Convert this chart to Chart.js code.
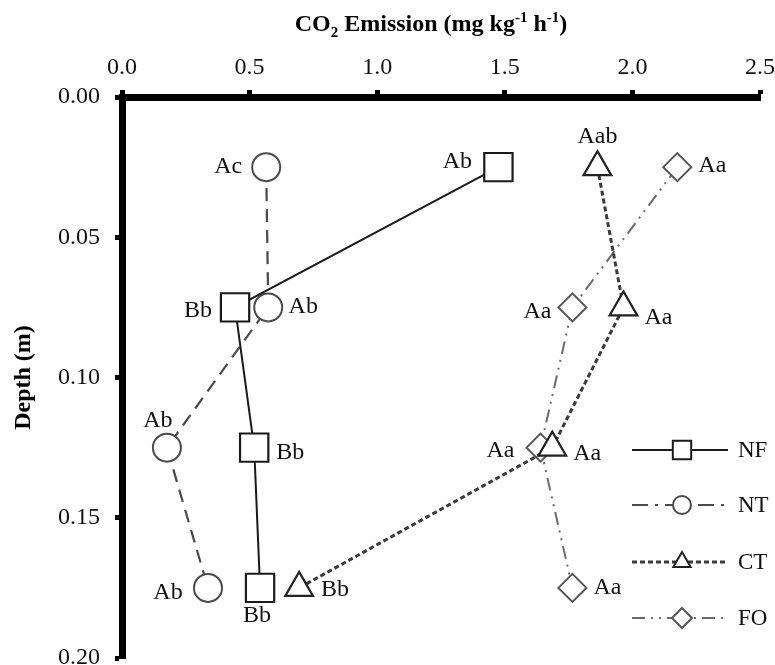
<!DOCTYPE html>
<html>
<head>
<meta charset="utf-8">
<script src="https://cdn.jsdelivr.net/npm/chart.js@4.4.0/dist/chart.umd.min.js"></script>
<style>
  html, body { margin: 0; padding: 0; background: #fff; }
  #wrap { width: 775px; height: 665px; }
</style>
</head>
<body>
<div id="wrap"><canvas id="chart"></canvas></div>
<script>
// depth of each sampling layer (m)
const depths = [0.025, 0.075, 0.125, 0.175];
const seriesNames = ['NF', 'NT', 'CT', 'FO'];
// CO2 emission (mg kg-1 h-1) per layer
const nfValues = [1.475, 0.443, 0.518, 0.541];
const ntValues = [0.565, 0.573, 0.176, 0.337];
const ctValues = [1.863, 1.965, 1.686, 0.694];
const foValues = [2.176, 1.765, 1.640, 1.765];
// significance letters
const nfLetters = ['Ab', 'Bb', 'Bb', 'Bb'];
const ntLetters = ['Ac', 'Ab', 'Ab', 'Ab'];
const ctLetters = ['Aab', 'Aa', 'Aa', 'Bb'];
const foLetters = ['Aa', 'Aa', 'Aa', 'Aa'];
const xTickLabels = ['0.0', '0.5', '1.0', '1.5', '2.0', '2.5'];
const yTickLabels = ['0.00', '0.05', '0.10', '0.15', '0.20'];

const serif = "'Liberation Serif', 'Times New Roman', serif";

// where each letter sits relative to its marker (px)
const letterOffsets = [
  [[-41, -5], [-37, 3], [36, 5], [-3, 28]],
  [[-38, 0], [35, -1], [-9, -27], [-40, 5]],
  [[0, -30], [35, 10], [35, 6], [36, 2]],
  [[35, -1], [-35, 4], [-40, 3], [35, 0]]
];

function pts(values) {
  return values.map((v, i) => ({ x: v, y: depths[i] }));
}

const letterPlugin = {
  id: 'letters',
  afterDatasetsDraw(chart) {
    const ctx = chart.ctx;
    const all = [nfLetters, ntLetters, ctLetters, foLetters];
    ctx.save();
    ctx.font = '24px ' + serif;
    ctx.fillStyle = '#111';
    ctx.textAlign = 'center';
    ctx.textBaseline = 'middle';
    chart.data.datasets.forEach((ds, di) => {
      chart.getDatasetMeta(di).data.forEach((el, i) => {
        const off = letterOffsets[di][i];
        ctx.fillText(all[di][i], el.x + off[0], el.y + off[1]);
      });
    });
    ctx.restore();
  }
};

// x axis title with sub/superscripts
const titlePlugin = {
  id: 'topTitle',
  afterDraw(chart) {
    const ctx = chart.ctx;
    const big = 'bold 24px ' + serif;
    const small = 'bold 15px ' + serif;
    const parts = [
      ['CO', big, 0], ['2', small, 6], [' Emission (mg kg', big, 0],
      ['-1', small, -9], [' h', big, 0], ['-1', small, -9], [')', big, 0]
    ];
    ctx.save();
    let w = 0;
    parts.forEach(p => { ctx.font = p[1]; w += ctx.measureText(p[0]).width; });
    const area = chart.chartArea;
    let x = (area.left + area.right) / 2 - w / 2 - 10;
    const y = 31;
    ctx.fillStyle = '#000';
    ctx.textBaseline = 'alphabetic';
    ctx.textAlign = 'left';
    parts.forEach(p => {
      ctx.font = p[1];
      ctx.fillText(p[0], x, y + p[2]);
      x += ctx.measureText(p[0]).width;
    });
    ctx.restore();
  }
};

const legendPlugin = {
  id: 'innerLegend',
  afterDraw(chart) {
    const ctx = chart.ctx;
    const rows = [450, 505, 562, 618];
    const x0 = 632, x1 = 728, xm = 682;
    ctx.save();
    chart.data.datasets.forEach((ds, i) => {
      const y = rows[i];
      ctx.strokeStyle = ds.borderColor;
      ctx.lineWidth = ds.borderWidth;
      ctx.setLineDash(ds.legendDash || ds.borderDash || []);
      ctx.beginPath();
      ctx.moveTo(x0, y);
      ctx.lineTo(x1, y);
      ctx.stroke();
      ctx.setLineDash([]);
      ctx.fillStyle = '#fff';
      ctx.strokeStyle = ds.pointBorderColor;
      ctx.lineWidth = 2;
      Chart.helpers.drawPoint(ctx, {
        pointStyle: ds.pointStyle, radius: ds.legendRadius, rotation: 0, borderWidth: 2
      }, xm, y);
      ctx.fillStyle = '#111';
      ctx.font = '23px ' + serif;
      ctx.textAlign = 'left';
      ctx.textBaseline = 'middle';
      ctx.fillText(ds.label, 738, y + 1);
    });
    ctx.restore();
  }
};

new Chart(document.getElementById('chart'), {
  type: 'scatter',
  data: {
    datasets: [
      {
        label: seriesNames[0], data: pts(nfValues), showLine: true,
        borderColor: '#1a1a1a', borderWidth: 2, borderDash: [],
        pointStyle: 'rect', pointRadius: 20, pointBorderWidth: 2.2,
        pointBorderColor: '#1a1a1a', pointBackgroundColor: '#fff', legendRadius: 13
      },
      {
        label: seriesNames[1], data: pts(ntValues), showLine: true,
        borderColor: '#4a4a4a', borderWidth: 2.2, borderDash: [13, 8],
        legendDash: [16, 7, 3, 7],
        pointStyle: 'circle', pointRadius: 14, pointBorderWidth: 2,
        pointBorderColor: '#4a4a4a', pointBackgroundColor: '#fff', legendRadius: 9
      },
      {
        label: seriesNames[2], data: pts(ctValues), showLine: true,
        borderColor: '#3a3a3a', borderWidth: 3, borderDash: [5, 3],
        pointStyle: 'triangle', pointRadius: 16, pointBorderWidth: 2.2,
        pointBorderColor: '#222', pointBackgroundColor: '#fff', legendRadius: 10
      },
      {
        label: seriesNames[3], data: pts(foValues), showLine: true,
        borderColor: '#6a6a6a', borderWidth: 2, borderDash: [13, 6, 2, 6, 2, 6],
        pointStyle: 'rectRot', pointRadius: 14, pointBorderWidth: 2,
        pointBorderColor: '#555', pointBackgroundColor: '#fff', legendRadius: 10
      }
    ]
  },
  options: {
    responsive: true,
    maintainAspectRatio: false,
    animation: false,
    layout: { autoPadding: false, padding: { top: 0, right: 15, bottom: 7, left: 0 } },
    plugins: { legend: { display: false }, tooltip: { enabled: false } },
    elements: { line: { tension: 0 } },
    scales: {
      x: {
        type: 'linear',
        position: 'top',
        min: 0,
        max: 2.5,
        ticks: {
          stepSize: 0.5,
          padding: 8,
          color: '#111',
          font: { family: serif, size: 24 },
          callback: (v) => xTickLabels[Math.round(v / 0.5)]
        },
        grid: { drawOnChartArea: false, drawTicks: true, tickLength: 7, tickWidth: 5, tickColor: '#000' },
        border: { display: true, width: 7, color: '#000' },
        afterFit(scale) { scale.height = 97; scale.paddingLeft = 0; scale.paddingRight = 0; }
      },
      y: {
        type: 'linear',
        reverse: true,
        min: 0,
        max: 0.2,
        ticks: {
          stepSize: 0.05,
          padding: 15,
          color: '#111',
          font: { family: serif, size: 24 },
          callback: (v) => yTickLabels[Math.round(v / 0.05)]
        },
        title: {
          display: true,
          text: 'Depth (m)',
          color: '#000',
          padding: { top: 9, bottom: 4 },
          font: { family: serif, size: 24, weight: 'bold' }
        },
        grid: { drawOnChartArea: false, drawTicks: true, tickLength: 7, tickWidth: 5, tickColor: '#000' },
        border: { display: true, width: 7, color: '#000' },
        afterFit(scale) { scale.width = 122; scale.paddingTop = 0; scale.paddingBottom = 0; }
      }
    }
  },
  plugins: [letterPlugin, titlePlugin, legendPlugin]
});
</script>
</body>
</html>
